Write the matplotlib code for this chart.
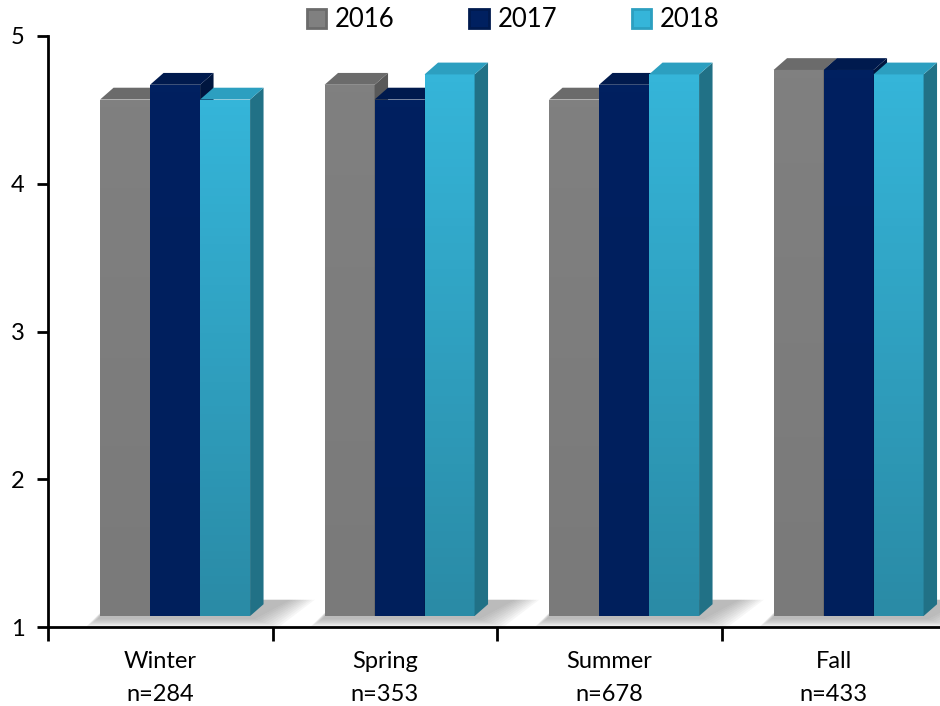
import matplotlib.pyplot as plt
import numpy as np
from matplotlib.patches import Polygon, Rectangle, Patch
from matplotlib.colors import LinearSegmentedColormap

plt.rcParams['font.family'] = ['Lato', 'DejaVu Sans']

seasons = ['Winter\nn=284', 'Spring\nn=353', 'Summer\nn=678', 'Fall\nn=433']
years = ['2016', '2017', '2018']
v2016 = [4.57, 4.67, 4.57, 4.77]
v2017 = [4.67, 4.57, 4.67, 4.77]
v2018 = [4.57, 4.74, 4.74, 4.74]
series = [v2016, v2017, v2018]

# front, top, side colours per year
front = ['#808080', '#002060', '#35b5d9']
front_bot = ['#7a7a7a', '#001f5c', '#2a8ba6']
tops = ['#6b6b6b', '#001a4e', '#2c9fc0']
sides = ['#595959', '#00163f', '#217186']

fig = plt.figure(figsize=(9.4, 7.06), dpi=100)
ax = fig.add_axes([48 / 940, 79 / 706, 898 / 940, 591 / 706])
ax.set_xlim(-0.5, 3.5)
ax.set_ylim(1, 5)

w = 0.2227
dx, dy = 0.06, 0.08
floor = 1.074

# soft floor shadows
for i in range(len(seasons)):
    x0 = i - 0.268
    for k in range(10):
        grow = 0.012 * k
        sh = Polygon([(x0 - 0.01 - grow * 0.5, floor - 0.02 - grow * 0.5),
                      (x0 + 3 * w + 0.02 + grow, floor - 0.02 - grow * 0.5),
                      (x0 + 3 * w + dx + 0.12 + grow, floor + dy + 0.03),
                      (x0 + dx, floor + dy + 0.03)],
                     closed=True, facecolor='#707070', edgecolor='none',
                     alpha=0.06, zorder=1)
        ax.add_patch(sh)

z = 2
for i in range(len(seasons)):
    for j, vals in enumerate(series):
        v = vals[i]
        x0 = i - 0.268 + j * w
        # front face with vertical gradient
        cmap = LinearSegmentedColormap.from_list('g', [front_bot[j], front[j]])
        grad = np.linspace(0, 1, 64).reshape(-1, 1)
        im = ax.imshow(grad, extent=(x0, x0 + w, floor, v), origin='lower',
                       cmap=cmap, aspect='auto', zorder=z)
        rect = Rectangle((x0, floor), w, v - floor, facecolor='none',
                         edgecolor='none', zorder=z)
        ax.add_patch(rect)
        im.set_clip_path(rect)
        top = Polygon([(x0, v), (x0 + dx, v + dy), (x0 + w + dx, v + dy), (x0 + w, v)],
                      closed=True, facecolor=tops[j], edgecolor='none', zorder=z)
        side = Polygon([(x0 + w, floor), (x0 + w + dx, floor + dy),
                        (x0 + w + dx, v + dy), (x0 + w, v)],
                       closed=True, facecolor=sides[j], edgecolor='none', zorder=z)
        ax.add_patch(side)
        ax.add_patch(top)
        z += 1

ax.set_xlim(-0.5, 3.5)
ax.set_ylim(1, 5)

for s in ['top', 'right']:
    ax.spines[s].set_visible(False)
for s in ['left', 'bottom']:
    ax.spines[s].set_linewidth(2)
    ax.spines[s].set_zorder(50)

ax.set_yticks([1, 2, 3, 4, 5])
ax.set_xticks([-0.5, 0.5, 1.5, 2.5, 3.5])
ax.set_xticklabels([])
ax.set_xticks(range(4), minor=True)
ax.set_xticklabels(seasons, minor=True, fontsize=17, linespacing=1.75)
ax.tick_params(axis='x', which='minor', length=0, pad=17)
ax.tick_params(axis='x', which='major', length=10, width=2, direction='out')
ax.tick_params(axis='y', length=8, width=2, labelsize=17, pad=9)

handles = [Patch(facecolor=front[j], edgecolor=tops[j], linewidth=2) for j in range(3)]
fig.legend(handles, years, loc='center', bbox_to_anchor=(0.546, 0.972), ncol=3,
           frameon=False, fontsize=18.5, handlelength=0.75, handleheight=0.75,
           handletextpad=0.35, columnspacing=2.9)

fig.savefig('out.png', dpi=100)
